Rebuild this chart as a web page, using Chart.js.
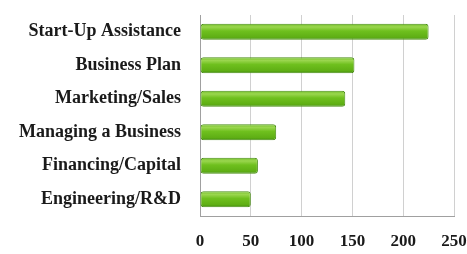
<!DOCTYPE html>
<html>
<head>
<meta charset="utf-8">
<script src="https://cdn.jsdelivr.net/npm/chart.js@4.4.1/dist/chart.umd.min.js"></script>
<style>
  html, body { margin: 0; padding: 0; background: #fff; }
  #wrap { width: 467px; height: 254px; }
</style>
</head>
<body>
<div id="wrap"><canvas id="chart" width="467" height="254"></canvas></div>
<script>
// categorie e valori
const categorie = ['Start-Up Assistance', 'Business Plan', 'Marketing/Sales',
                   'Managing a Business', 'Financing/Capital', 'Engineering/R&D'];
const valori = [225, 152, 143, 75, 57, 50];
const tickX = [0, 50, 100, 150, 200, 250];

// gradiente verde per ogni barra (chiaro sopra, scuro sotto)
function coloreBarra(ctx) {
    const chart = ctx.chart;
    const y = chart.scales.y;
    if (!y || ctx.type !== 'data') return '#6cbf1c';
    const c = y.getPixelForValue(ctx.dataIndex);
    if (!isFinite(c)) return '#6cbf1c';
    const g = chart.ctx.createLinearGradient(0, c - 8, 0, c + 8);
    g.addColorStop(0, '#74c02a');
    g.addColorStop(0.2, '#9ad64e');
    g.addColorStop(0.45, '#6fc01e');
    g.addColorStop(0.85, '#5eae14');
    g.addColorStop(1, '#3f8a0e');
    return g;
}

const serif = '"Liberation Serif", "Times New Roman", serif';

const ctx = document.getElementById('chart').getContext('2d');
new Chart(ctx, {
    type: 'bar',
    data: {
        labels: categorie,
        datasets: [{
            data: valori,
            backgroundColor: coloreBarra,
            borderColor: '#4a8f14',
            borderWidth: 1,
            borderRadius: 3,
            borderSkipped: false,
            barPercentage: 0.48,
            categoryPercentage: 1
        }]
    },
    options: {
        indexAxis: 'y',
        responsive: false,
        animation: false,
        layout: { padding: { top: 15, right: 13, left: 4, bottom: 3 } },
        plugins: {
            legend: { display: false },
            tooltip: { enabled: false }
        },
        scales: {
            x: {
                min: 0,
                max: 250,
                afterBuildTicks: (ax) => { ax.ticks = tickX.map(v => ({ value: v })); },
                afterFit: (ax) => { ax.height = 35; ax.paddingRight = 0; },
                grid: { color: '#d0d0d0', drawTicks: false },
                border: { color: '#a0a0a0' },
                ticks: {
                    color: '#1a1a1a',
                    padding: 15,
                    font: { family: serif, size: 17, weight: 'bold' }
                }
            },
            y: {
                afterFit: (ax) => { ax.width = 196; ax.paddingTop = 0; ax.paddingBottom = 0; },
                grid: { display: false },
                border: { color: '#a0a0a0' },
                ticks: {
                    color: '#1a1a1a',
                    padding: 11,
                    font: { family: serif, size: 18, weight: 'bold' }
                }
            }
        }
    }
});
</script>
</body>
</html>
